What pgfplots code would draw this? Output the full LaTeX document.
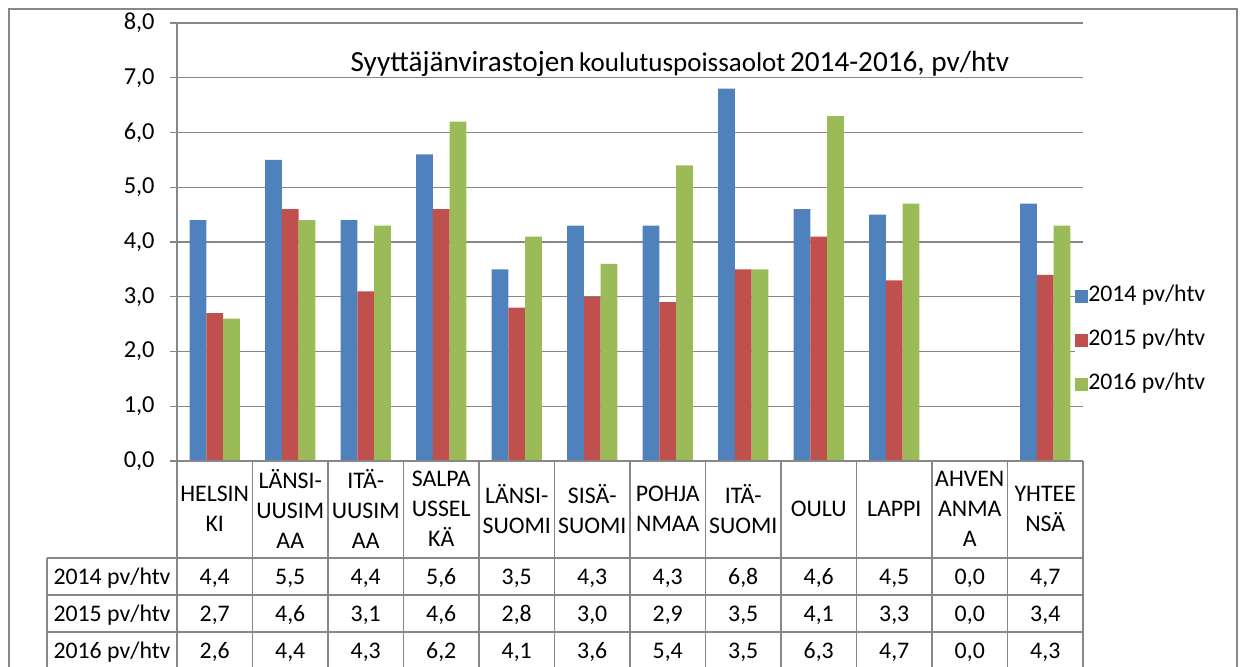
\documentclass[border=0pt]{standalone}
\usepackage{fontspec}
\setmainfont{Carlito}
\usepackage{pgfplots}
\usepackage{pgfplotstable}
\pgfplotsset{compat=1.18}
\definecolor{b14}{HTML}{4F81BD}
\definecolor{r15}{HTML}{C0504D}
\definecolor{g16}{HTML}{9BBB59}
\definecolor{gridgray}{HTML}{878787}
\pgfkeys{/pgf/number format/assume math mode=true}

\pgfplotstableread{
x  y14 y15 y16
0  4.4 2.7 2.6
1  5.5 4.6 4.4
2  4.4 3.1 4.3
3  5.6 4.6 6.2
4  3.5 2.8 4.1
5  4.3 3.0 3.6
6  4.3 2.9 5.4
7  6.8 3.5 3.5
8  4.6 4.1 6.3
9  4.5 3.3 4.7
10 0.0 0.0 0.0
11 4.7 3.4 4.3
}\data

\begin{document}
\begin{tikzpicture}
\begin{axis}[
  at={(88.5pt,103pt)}, anchor=south west,
  scale only axis, width=453pt, height=219pt,
  xmin=-0.5, xmax=11.5, ymin=0, ymax=8,
  ybar=0pt, bar width=0.221,
  axis y line*=left, axis x line*=bottom,
  xtick=\empty,
  ytick={0,1,...,8},
  ymajorgrids, grid style={gridgray, line width=0.65pt},
  axis line style={gridgray, line width=0.7pt},
  tick style={gridgray, line width=0.65pt}, tick align=outside, major tick length=3.5pt,
  yticklabel style={font=\fontsize{12.2}{14}\selectfont, anchor=east, inner sep=0pt, xshift=-7.5pt,
     /pgf/number format/.cd, fixed, fixed zerofill, precision=1, use comma, assume math mode=true},
  legend style={at={(0.991,0.276)}, anchor=west, draw=none, fill=white, inner sep=0pt,
     font=\fontsize{11.9}{14}\selectfont, legend cell align=left,
     nodes={inner sep=0pt, text height=8pt, text depth=2.5pt},
     row sep=11.5pt, /tikz/every even column/.append style={column sep=2.5pt}},
  clip=false,
]
\addplot[fill=b14, draw=none, legend image code/.code={\fill[b14] (0pt,-3.25pt) rectangle (6.5pt,3.25pt);}] table[x=x,y=y14]{\data};
\addplot[fill=r15, draw=none, legend image code/.code={\fill[r15] (0pt,-3.25pt) rectangle (6.5pt,3.25pt);}] table[x=x,y=y15]{\data};
\addplot[fill=g16, draw=none, legend image code/.code={\fill[g16] (0pt,-3.25pt) rectangle (6.5pt,3.25pt);}] table[x=x,y=y16]{\data};
\legend{2014 pv/htv, 2015 pv/htv, 2016 pv/htv}
\node[anchor=base, inner sep=0pt] at (rel axis cs:0.555,0.890)
  {{\fontsize{14.6}{16}\selectfont Syyttäjänvirastojen} {\fontsize{13.5}{16}\selectfont koulutuspoissaolot} {\fontsize{14.6}{16}\selectfont 2014-2016, pv/htv}};
\end{axis}

\begin{scope}[x=0.5pt,y=0.5pt]
  \draw[gridgray, line width=0.7pt] (9,-10) -- (9,658) -- (1237,658) -- (1237,-10);
  \begin{scope}[gridgray, line width=0.75pt]
    \draw (177,206) -- (1083,206);
    \foreach \yy in {109,72,35} \draw (47,\yy) -- (1083,\yy);
    \draw (47,109) -- (47,-10);
    \foreach \k in {0,...,12} \draw (177+75.5*\k,206) -- (177+75.5*\k,-10);
  \end{scope}
  \foreach \lab [count=\i from 0] in {HELSIN\\KI, LÄNSI-\\UUSIM\\AA, ITÄ-\\UUSIM\\AA, SALPA\\USSEL\\KÄ, LÄNSI-\\SUOMI, SISÄ-\\SUOMI, POHJA\\NMAA, ITÄ-\\SUOMI, OULU, LAPPI, AHVEN\\ANMA\\A, YHTEE\\NSÄ}
    \node[align=center, inner sep=0pt, font=\fontsize{11.9}{15}\selectfont] at (214.75+75.5*\i,158) {\lab};
  \foreach \col/\yy/\lbl in {y14/90/2014, y15/53/2015, y16/16/2016} {
    \node[anchor=base, inner sep=0pt, font=\fontsize{11.9}{14}\selectfont] at (112,\yy-7.4) {\lbl\ pv/htv};
    \foreach \i in {0,...,11} {
      \pgfplotstablegetelem{\i}{\col}\of\data
      \node[anchor=base, inner sep=0pt, font=\fontsize{11.9}{14}\selectfont] at (214.75+75.5*\i,\yy-7.4)
        {\pgfmathprintnumber[fixed,fixed zerofill,precision=1,use comma]{\pgfplotsretval}};
    }
  }
\end{scope}
\pgfresetboundingbox
\useasboundingbox (0,0) rectangle (620.5pt,333.5pt);
\end{tikzpicture}
\end{document}
